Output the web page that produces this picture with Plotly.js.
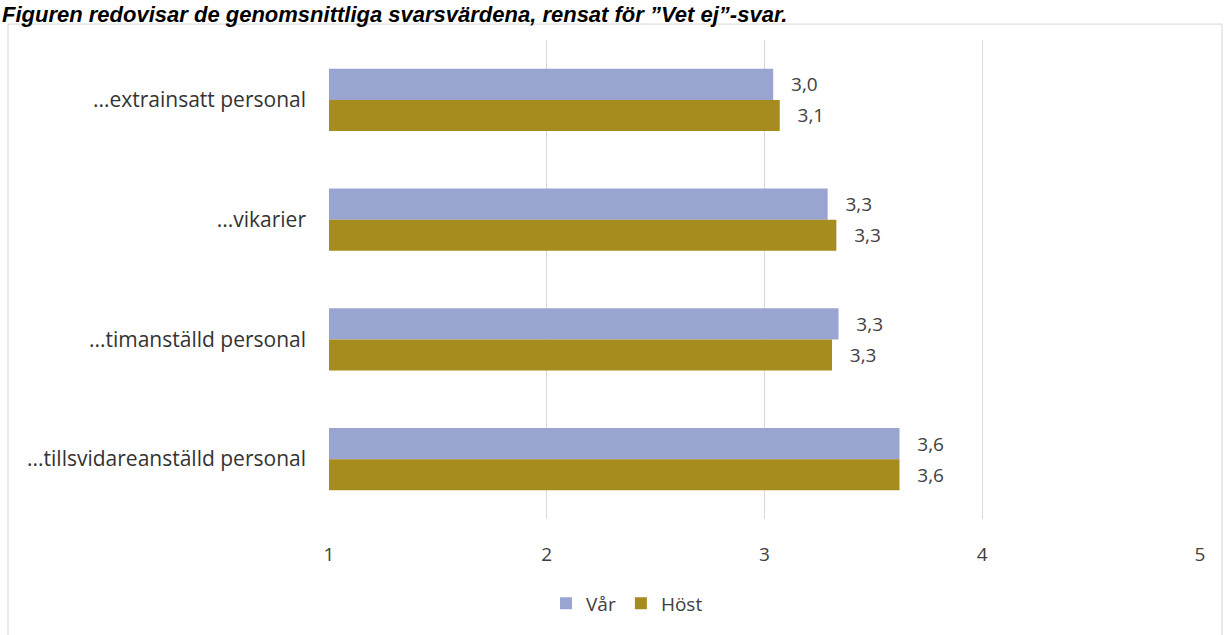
<!DOCTYPE html>
<html><head><meta charset="utf-8">
<script src="https://cdn.plot.ly/plotly-3.0.1.min.js"></script>
<style>html,body{margin:0;padding:0;background:#fff;}</style>
</head><body>
<div id="chart" style="width:1225px;height:635px;"></div>
<script>
const categories = ["...extrainsatt personal", "...vikarier", "...timanställd personal", "...tillsvidareanställd personal"];
const varValues = [3.04, 3.29, 3.34, 3.62];
const hostValues = [3.07, 3.33, 3.31, 3.62];
const seriesNames = ["Vår", "Höst"];
const xTicks = [1, 2, 3, 4, 5];
const titleText = "Figuren redovisar de genomsnittliga svarsvärdena, rensat för \u201dVet ej\u201d-svar.";

const W = 1225, H = 635, L = 329, R = 25, T = 40, B = 113;
const pw = W - L - R, ph = H - T - B;
const px = x => (x - L) / pw;
const py = y => (H - B - y) / ph;

const fontFam = "Open Sans, Liberation Sans, sans-serif";
const txtColor = "#404040";

const mk = (vals, name, color) => ({
  type: "bar", orientation: "h", y: categories,
  x: vals.map(v => v - 1), base: 1, name: name,
  marker: {color: color},
  text: vals.map(v => v.toFixed(1).replace(".", ",")),
  texttemplate: "\u00a0\u00a0\u00a0%{text}", textposition: "outside",
  textfont: {family: fontFam, size: 19, color: txtColor},
  cliponaxis: false, constraintext: "none", hoverinfo: "skip"
});

const data = [
  mk(varValues, seriesNames[0], "#99a4d0"),
  mk(hostValues, seriesNames[1], "#a68b1f")
];

const layout = {
  width: W, height: H,
  margin: {l: L, r: R, t: T, b: B, pad: 0},
  paper_bgcolor: "#fff", plot_bgcolor: "#fff",
  barmode: "group", bargap: 0.48, bargroupgap: 0,
  showlegend: true,
  legend: {orientation: "h", x: px(627), xanchor: "center", y: py(607), yanchor: "middle",
           bgcolor: "rgba(0,0,0,0)",
           font: {family: fontFam, size: 19, color: txtColor}, traceorder: "normal",
           itemwidth: 30, itemsizing: "constant"},
  xaxis: {range: [1, 5], tickvals: xTicks, ticktext: xTicks.map(String),
          showgrid: true, gridcolor: "#d9d9d9", gridwidth: 1, zeroline: false,
          showline: false, ticks: "", ticklabelstandoff: 22,
          tickfont: {family: fontFam, size: 19, color: txtColor}},
  yaxis: {autorange: "reversed", showgrid: false, zeroline: false, showline: false,
          ticks: "", ticklabelstandoff: 22,
          tickfont: {family: fontFam, size: 21, color: "#333"}},
  shapes: [
    {type: "rect", xref: "paper", yref: "paper", x0: px(8), x1: px(1222), y0: py(24), y1: py(645),
     line: {color: "#d6d6d6", width: 1}, fillcolor: "rgba(0,0,0,0)", layer: "below"}
  ],
  annotations: [
    {xref: "paper", yref: "paper", x: px(0), y: py(0), xanchor: "left", yanchor: "top",
     text: "<b><i>" + titleText + "</i></b>", showarrow: false,
     font: {family: "Liberation Sans, Arial, sans-serif", size: 22, color: "#000"}}
  ]
};

Plotly.newPlot("chart", data, layout, {staticPlot: true, displayModeBar: false});
</script>
</body></html>
